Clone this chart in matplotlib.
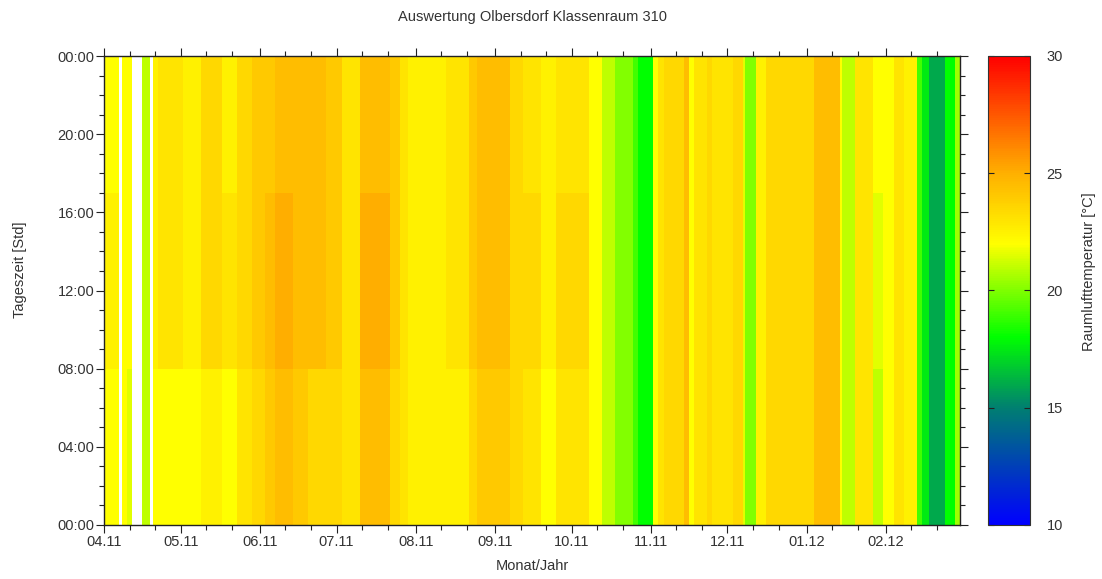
import numpy as np
import matplotlib
matplotlib.use("Agg")
import matplotlib.pyplot as plt
import matplotlib.dates as mdates
from matplotlib.colors import LinearSegmentedColormap
from matplotlib.ticker import MultipleLocator, FuncFormatter

plt.rcParams['font.family'] = ['Liberation Sans', 'DejaVu Sans']

# ---------------- data ----------------
start_date = "2011-04-01"
n_days = 335  # 01.04.2011 .. 29.02.2012
month_ticks = ["2011-04-01", "2011-05-01", "2011-06-01", "2011-07-01", "2011-08-01",
               "2011-09-01", "2011-10-01", "2011-11-01", "2011-12-01", "2012-01-01",
               "2012-02-01"]

# runs of days: first day index of each run (day 0 = 01.04.2011)
seg_start = [0, 6, 7, 9, 11, 15, 18, 19, 21, 31, 38, 46, 52, 58, 63,
             67, 74, 80, 87, 93, 100, 112, 116, 119, 134, 143, 146, 153,
             159, 164, 171, 177, 185, 190, 195, 200, 207, 209, 215, 217,
             219, 227, 229, 231, 236, 238, 246, 250, 251, 255, 259, 278,
             288, 289, 294, 301, 305, 309, 313, 318, 320, 323, 329, 333]
# temperature [°C] per run: night (0-8h), day (8-18h), evening (18-24h); nan = no data
t_night = [22, np.nan, 22, 21.5, np.nan, 21, np.nan, 22, 22, 22, 22.5, 22, 23, 23.5, 24,
           24.5, 24, 23.5, 23.5, 23, 24.5, 23.5, 23, 22.5, 22.5, 23.5, 24, 24,
           23.5, 23, 22, 23, 23, 22, 21, 20, 19, 18, 22, 23,
           23.5, 24.5, 22, 23, 23.5, 23, 23.5, 21.5, 20, 22.5, 23.5, 24.5,
           22, 21, 23, 21, 22, 23, 22.5, 19, 17.5, 16, 18, 20.5]
t_day = [22.5, np.nan, 22, 22, np.nan, 21, np.nan, 22.5, 23, 22.5, 23.5, 23, 23.5, 24, 24.5,
         25, 24.5, 24.5, 24, 23, 25, 24, 23, 22.5, 23, 24, 24.5, 24.5,
         23.5, 23.5, 22.5, 23.5, 23.5, 22, 21, 20, 19, 18, 22, 23,
         23.5, 24.5, 22, 23, 23.5, 23, 23.5, 21.5, 20, 22.5, 23.5, 24.5,
         22, 21, 23, 21.5, 22, 23, 22.5, 19, 17.5, 16, 18, 20.5]
t_eve = [22, np.nan, 22, 22, np.nan, 21, np.nan, 22.5, 23, 22.5, 23.5, 22.5, 23.5, 24, 24,
         24.5, 24.5, 24.5, 24, 23, 24.5, 24, 23, 22.5, 23, 24, 24.5, 24.5,
         23.5, 23, 22.5, 23, 23, 22, 21, 20, 19, 18, 22, 23,
         23.5, 24.5, 22, 23, 23.5, 23, 23.5, 21.5, 20, 22.5, 23.5, 24.5,
         22, 21, 23, 22, 22, 23, 22.5, 19, 17.5, 16, 18, 20.5]
period_hours = [0, 8, 17, 24]  # boundaries of night / day / evening

month_fmt = "%m.%y"
cbar_ticks = [10, 15, 20, 25, 30]

# ---------------- build grid ----------------
seg_end = seg_start[1:] + [n_days]
Z = np.full((24, n_days), np.nan)
for s, e, tn, td, te in zip(seg_start, seg_end, t_night, t_day, t_eve):
    for (h0, h1), t in zip(zip(period_hours[:-1], period_hours[1:]), (tn, td, te)):
        Z[h0:h1, s:e] = t

x_edges = np.datetime64(start_date) + np.arange(n_days + 1).astype('timedelta64[D]')
y_edges = np.arange(25)

cmap = LinearSegmentedColormap.from_list(
    "raum", [(0.0, "#0000ff"), (0.25, "#008070"), (0.40, "#00ff00"),
             (0.60, "#ffff00"), (0.75, "#ffb000"), (1.0, "#ff0000")])

# ---------------- figure ----------------
W, H = 1102, 579
fig = plt.figure(figsize=(W / 100, H / 100), dpi=100)
ax = fig.add_axes([104 / W, 1 - 525 / H, 856 / W, 469 / H])
cax = fig.add_axes([988 / W, 1 - 525 / H, 42 / W, 469 / H])

mesh = ax.pcolormesh(x_edges, y_edges, np.ma.masked_invalid(Z), cmap=cmap,
                     vmin=10, vmax=30, shading="flat")

txt = "#333333"
ax.set_xlim(x_edges[0], x_edges[-1])
ax.set_ylim(0, 24)
ax.set_xticks(np.array(month_ticks, dtype="datetime64[D]"))
ax.xaxis.set_major_formatter(mdates.DateFormatter(month_fmt))
ax.xaxis.set_minor_locator(mdates.DayLocator(bymonthday=[11, 21]))
ax.yaxis.set_major_locator(MultipleLocator(4))
ax.yaxis.set_minor_locator(MultipleLocator(1))
ax.yaxis.set_major_formatter(FuncFormatter(lambda v, p: "%02d:00" % (int(round(v)) % 24)))
ax.tick_params(which="both", direction="out", top=True, right=True,
               labelsize=10.5, colors="#222222", labelcolor=txt, width=0.8)
ax.tick_params(which="major", length=6, pad=1)
ax.tick_params(which="minor", length=3.5)
for sp in ax.spines.values():
    sp.set_color("#222222")
    sp.set_linewidth(1.0)

cb = fig.colorbar(mesh, cax=cax, ticks=cbar_ticks)
cb.outline.set_edgecolor("#333333")
cb.outline.set_linewidth(0.8)
cax.tick_params(direction="in", length=4, left=True, right=True,
                labelsize=10.5, labelcolor=txt, color="#222222", pad=12)

fig.text(532 / W, 1 - 17 / H, "Auswertung Olbersdorf Klassenraum 310",
         ha="center", va="center", fontsize=10.5, color=txt)
fig.text(532 / W, 1 - 566 / H, "Monat/Jahr", ha="center", va="center",
         fontsize=10.5, color=txt)
fig.text(20 / W, 1 - 270 / H, "Tageszeit [Std]", ha="center", va="center",
         rotation=90, fontsize=10.5, color=txt)
fig.text(1089 / W, 1 - 272 / H, "Raumlufttemperatur [°C]", ha="center",
         va="center", rotation=90, fontsize=10.5, color=txt)

fig.savefig("out.png", dpi=100)
